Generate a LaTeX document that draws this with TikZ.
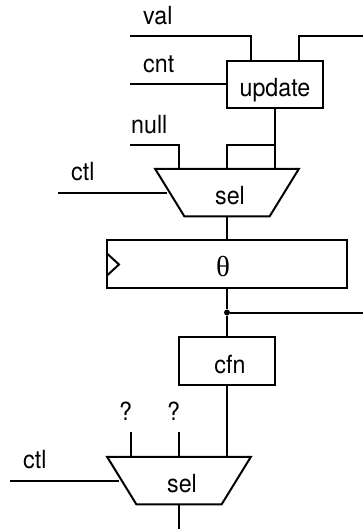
\documentclass[tikz,border=0pt]{standalone}
\usepackage{fontspec}
\setmainfont[FakeStretch=0.93]{TeX Gyre Heros}
\newfontfamily\symfont{Liberation Serif}
\usetikzlibrary{shapes.geometric}
\tikzset{
  wire/.style={line width=2pt},
  blockbox/.style={rectangle,draw,line width=2pt,inner sep=0pt,outer sep=0pt,text height=24pt,text depth=0pt},
  muxbox/.style={trapezium,draw,line width=2pt,shape border rotate=180,trapezium stretches=true,trapezium left angle=63,trapezium right angle=63,
    minimum width=144pt,minimum height=47.5pt,inner sep=0pt,outer sep=0pt,text height=24pt,text depth=0pt},
  tag/.style={anchor=base west,inner sep=0pt},
  every node/.style={font=\fontsize{25}{28}\selectfont}
}
\begin{document}
\begin{tikzpicture}[x=1pt,y=-1pt]
  \useasboundingbox (0,0) rectangle (363,532);
  % Nodes
  \node[blockbox,minimum width=96pt,minimum height=47pt] (update) at (275,84.5){update};
  \node[muxbox] (muxA) at (227,192.5){\hspace{6pt}sel};
  \node[blockbox,minimum width=240pt,minimum height=48pt] (theta) at (227,264){\hspace{-8pt}\fontsize{29}{30}\selectfont\symfont θ};
  \node[blockbox,minimum width=96pt,minimum height=48pt] (cfn) at (227,361){\hspace{6pt}cfn};
  \node[muxbox] (muxB) at (179,480.5){\hspace{6pt}sel};
  \node[circle,fill,inner sep=0pt,minimum size=6pt] (tap) at (227,312.5){};
  % Labels
  \node[tag] (valtag) at (143,25){val};
  \node[tag] (cnttag) at (143,72.5){cnt};
  \node[tag] (nulltag) at (131,133){null};
  \node[tag] (ctltagA) at (71,180.5){ctl};
  \node[tag] (ctltagB) at (23,468.5){ctl};
  \node[anchor=base,inner sep=0pt] (qtagA) at (125.5,420){?};
  \node[anchor=base,inner sep=0pt] (qtagB) at (173.5,420){?};
  % Free ends
  \coordinate (val) at (130,36.5);
  \coordinate (cnt) at (130,84.5);
  \coordinate (null) at (130,144.5);
  \coordinate (ctlA) at (58,192.5);
  \coordinate (ctlB) at (10,480.5);
  \coordinate (back) at (363,36.5);
  \coordinate (out) at (363,312.5);
  \coordinate (qinA) at (131,432);
  \coordinate (qinB) at (179,432);
  \coordinate (final) at (179,528.5);
  % Edges
  \draw[wire] (val) -| ([xshift=-24pt]update.north);
  \draw[wire] ([xshift=24pt]update.north) |- (back);
  \draw[wire] (cnt) -- (update.west);
  \draw[wire] (update.south) -- ([shift={(48,-23.75)}]muxA.center);
  \draw[wire] (null) -| ([shift={(-48,-23.75)}]muxA.center);
  \draw[wire] ([shift={(0,36.5)}]update.south) -| ([shift={(0,-23.75)}]muxA.center);
  \draw[wire] (ctlA) -- ([xshift=-60pt]muxA.center);
  \draw[wire] ([shift={(0,23.75)}]muxA.center) -- (theta.north);
  \draw[wire] (theta.south) -- (tap) -- (cfn.north);
  \draw[wire] (tap) -- (out);
  \draw[wire] (cfn.south) -- ([shift={(48,-23.75)}]muxB.center);
  \draw[wire] (qinA) -- ([shift={(-48,-23.75)}]muxB.center);
  \draw[wire] (qinB) -- ([shift={(0,-23.75)}]muxB.center);
  \draw[wire] (ctlB) -- ([xshift=-60pt]muxB.center);
  \draw[wire] ([shift={(0,23.75)}]muxB.center) -- (final);
  % Clock mark
  \draw[wire] ([shift={(0,-10.5)}]theta.west) -- ++(12,11) -- ++(-12,11);
\end{tikzpicture}
\end{document}
